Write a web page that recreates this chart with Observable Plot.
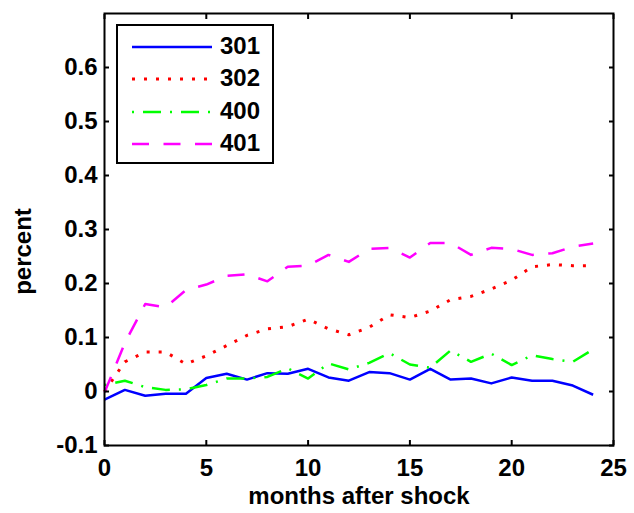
<!DOCTYPE html>
<html><head><meta charset="utf-8">
<script src="https://cdn.jsdelivr.net/npm/d3@7"></script>
<script src="https://cdn.jsdelivr.net/npm/@observablehq/plot@0.6"></script>
<style>
body{margin:0;background:#fff;}
#wrap{position:relative;width:634px;height:513px;font-family:"Liberation Sans",Arial,sans-serif;font-weight:bold;}
#legend{position:absolute;left:116px;top:24px;width:158px;height:140px;box-sizing:border-box;border:2px solid #000;background:#fff;}
</style></head><body><div id="wrap"></div>
<script>
const months = [0,1,2,3,4,5,6,7,8,9,10,11,12,13,14,15,16,17,18,19,20,21,22,23,24];
const seriesNames = ["301","302","400","401"];
const s301 = [-0.015,0.003,-0.008,-0.004,-0.004,0.025,0.033,0.022,0.034,0.033,0.042,0.026,0.020,0.036,0.034,0.022,0.042,0.022,0.024,0.015,0.026,0.020,0.020,0.011,-0.006];
const s302 = [0.000,0.055,0.073,0.073,0.051,0.066,0.085,0.104,0.116,0.120,0.134,0.116,0.105,0.119,0.142,0.137,0.149,0.170,0.176,0.190,0.206,0.231,0.235,0.233,0.233];
const s400 = [0.012,0.020,0.008,0.003,0.004,0.012,0.024,0.024,0.027,0.043,0.024,0.052,0.041,0.053,0.071,0.050,0.044,0.076,0.055,0.070,0.049,0.067,0.060,0.055,0.078];
const s401 = [-0.002,0.090,0.162,0.156,0.188,0.198,0.214,0.217,0.204,0.231,0.233,0.253,0.240,0.264,0.266,0.248,0.275,0.275,0.253,0.266,0.264,0.253,0.256,0.268,0.274];
const seriesValues = [s301, s302, s400, s401];
const colors = ["#0000ff","#ff0000","#00ff00","#ff00ff"];
const dashes = [null, "3,9", "2,9,18,9", "17,14.5"];
const widths = [2.5, 3, 2.5, 2.5];
const xTicks = [0,5,10,15,20,25];
const yTicks = [-0.1,0,0.1,0.2,0.3,0.4,0.5,0.6];
const yTickLabels = ["-0.1","0","0.1","0.2","0.3","0.4","0.5","0.6"];
const xLabel = "months after shock";
const yLabel = "percent";

const rows = [];
seriesNames.forEach((name, i) => months.forEach((m, j) => rows.push({series: name, month: m, value: seriesValues[i][j]})));

const lineMarks = seriesNames.map((name, i) =>
  Plot.line(rows.filter(r => r.series === name), {
    x: "month", y: "value", stroke: colors[i], strokeWidth: widths[i],
    strokeDasharray: dashes[i], strokeLinecap: "butt", strokeLinejoin: "round"
  })
);

const chart = Plot.plot({
  width: 634, height: 513,
  marginLeft: 104, marginRight: 21, marginTop: 13, marginBottom: 68,
  style: {fontFamily: '"Liberation Sans", Arial, sans-serif', fontSize: "24px", fontWeight: "bold", color: "#000", background: "#fff"},
  x: {domain: [0, 25]},
  y: {domain: [-0.1, 0.7]},
  marks: [
    ...lineMarks,
    Plot.axisX({ticks: xTicks, tickSize: -5, tickPadding: 18, tickFormat: d => String(d), label: null, strokeWidth: 2}),
    Plot.axisX({anchor: "top", ticks: xTicks, tickSize: -5, tickFormat: () => "", label: null, strokeWidth: 2}),
    Plot.axisY({ticks: yTicks, tickSize: -5, tickPadding: 12, tickFormat: d => yTickLabels[yTicks.indexOf(d)], label: null, strokeWidth: 2}),
    Plot.axisY({anchor: "right", ticks: yTicks, tickSize: -5, tickFormat: () => "", label: null, strokeWidth: 2}),
    Plot.frame({stroke: "#000", strokeWidth: 2}),
    Plot.text([xLabel], {frameAnchor: "bottom", lineAnchor: "middle", textAnchor: "middle", dy: 51, text: d => d}),
    Plot.text([yLabel], {frameAnchor: "left", textAnchor: "middle", lineAnchor: "middle", dx: -81, dy: 22, rotate: -90, text: d => d})
  ]
});
const wrap = document.getElementById("wrap");
wrap.appendChild(chart);

const legend = document.createElement("div");
legend.id = "legend";
seriesNames.forEach((name, i) => {
  const row = document.createElement("div");
  row.style.cssText = `position:absolute;left:0;top:${20.7 + i * 32.4}px;width:100%;height:0;`;
  row.innerHTML = `<svg width="100" height="8" style="position:absolute;left:0;top:-4px"><line x1="14" x2="94" y1="4" y2="4" stroke="${colors[i]}" stroke-width="${widths[i]}" stroke-dasharray="${dashes[i] || "none"}"/></svg><span style="position:absolute;left:102px;top:-15px;font-size:24px;line-height:28px;">${name}</span>`;
  legend.appendChild(row);
});
wrap.appendChild(legend);
</script></body></html>
